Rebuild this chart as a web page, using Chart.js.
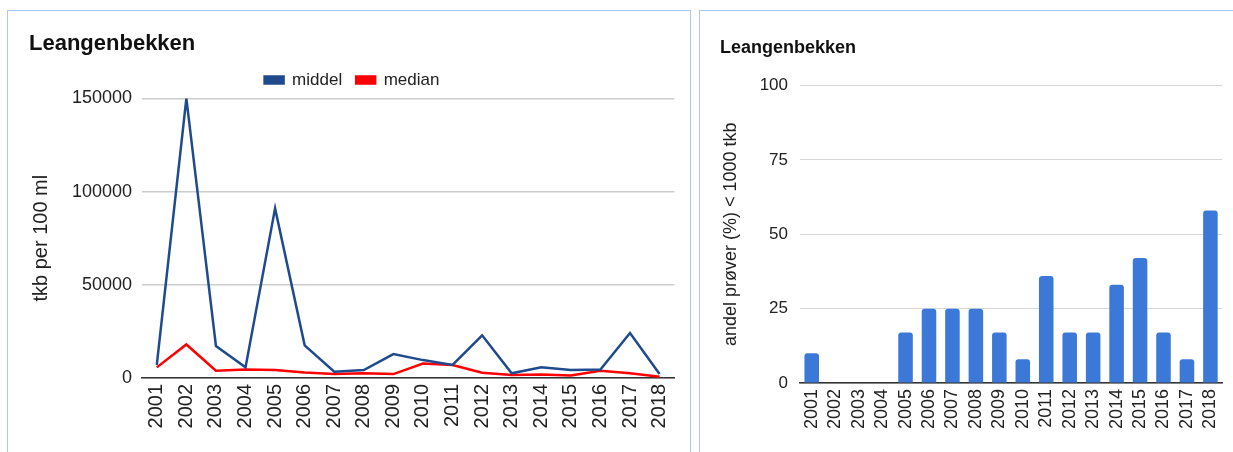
<!DOCTYPE html>
<html>
<head>
<meta charset="utf-8">
<script src="https://cdn.jsdelivr.net/npm/chart.js@4.4.1/dist/chart.umd.min.js"></script>
<style>
  body { margin: 0; background: #fff; font-family: Arial, "Liberation Sans", sans-serif; }
  .panel { position: absolute; border: 1px solid #a9c8f5; background: #fff; }
  #leftPanel { left: 7px; top: 10px; width: 682px; height: 460px; }
  #rightPanel { left: 699px; top: 10px; width: 560px; height: 460px; }
  .box { position: absolute; left: 0; top: 0; }
</style>
</head>
<body>
<div class="panel" id="leftPanel"><div class="box" style="width:682px;height:441px"><canvas id="lineChart"></canvas></div></div>
<div class="panel" id="rightPanel"><div class="box" style="width:538px;height:441px"><canvas id="barChart"></canvas></div></div>
<script>
// Leangenbekken - tkb per 100 ml and andel prøver < 1000 tkb
const years = ['2001','2002','2003','2004','2005','2006','2007','2008','2009','2010','2011','2012','2013','2014','2015','2016','2017','2018'];
const middelValues = [7000, 150000, 17200, 5700, 91000, 17500, 3400, 4300, 12800, 9600, 7000, 22900, 2500, 5700, 4300, 4600, 24100, 2100];
const medianValues = [5700, 18000, 3900, 4600, 4300, 3000, 2100, 2500, 2100, 7800, 7000, 2800, 1600, 1900, 1400, 3900, 2500, 700];
const andelValues = [10, 0, 0, 0, 17, 25, 25, 25, 17, 8, 36, 17, 17, 33, 42, 17, 8, 58];
const lineTicks = [0, 50000, 100000, 150000];
const barTicks = [0, 25, 50, 75, 100];

const FONT = 'Arial, "Liberation Sans", sans-serif';
Chart.defaults.font.family = FONT;
Chart.defaults.color = '#222';

new Chart(document.getElementById('lineChart'), {
  type: 'line',
  data: {
    labels: years,
    datasets: [
      {
        label: 'middel',
        data: middelValues,
        borderColor: '#1f4b8e',
        backgroundColor: '#1f4b8e',
        borderWidth: 2.5,
        pointRadius: 0,
        tension: 0
      },
      {
        label: 'median',
        data: medianValues,
        borderColor: '#ff0000',
        backgroundColor: '#ff0000',
        borderWidth: 2.5,
        pointRadius: 0,
        tension: 0
      }
    ]
  },
  options: {
    responsive: true,
    maintainAspectRatio: false,
    animation: false,
    layout: { padding: { left: 21, right: 15, top: 0, bottom: 0 } },
    plugins: {
      title: {
        display: true,
        text: 'Leangenbekken',
        align: 'start',
        color: '#111',
        font: { size: 22, weight: 'bold' },
        padding: { top: 20, bottom: 0 }
      },
      legend: {
        display: true,
        position: 'top',
        labels: {
          boxWidth: 19,
          boxHeight: 7,
          padding: 14,
          color: '#222',
          font: { size: 17 }
        }
      },
      tooltip: { enabled: false }
    },
    scales: {
      x: {
        offset: true,
        grid: { display: false, drawTicks: false },
        border: { color: '#333', width: 1.5 },
        ticks: {
          maxRotation: 90,
          minRotation: 90,
          autoSkip: false,
          padding: 6,
          color: '#222',
          font: { size: 20 }
        },
        afterFit: function(scale) { scale.height = 74; }
      },
      y: {
        min: 0,
        max: 150000,
        afterBuildTicks: function(scale) { scale.ticks = lineTicks.map(v => ({ value: v })); },
        grid: { color: '#cccccc', lineWidth: 1.5, drawTicks: false },
        border: { display: false },
        title: {
          display: true,
          text: 'tkb per 100 ml',
          color: '#222',
          font: { size: 20 },
          padding: { top: 0, bottom: 0 }
        },
        ticks: {
          padding: 10,
          color: '#222',
          font: { size: 18 },
          callback: function(value) { return String(value); }
        },
        afterFit: function(scale) { scale.width = 113; }
      }
    }
  }
});

new Chart(document.getElementById('barChart'), {
  type: 'bar',
  data: {
    labels: years,
    datasets: [
      {
        label: 'andel prøver (%) < 1000 tkb',
        data: andelValues,
        backgroundColor: '#3c78d8',
        borderRadius: { topLeft: 3, topRight: 3 },
        borderSkipped: 'bottom',
        categoryPercentage: 0.62,
        barPercentage: 1
      }
    ]
  },
  options: {
    responsive: true,
    maintainAspectRatio: false,
    animation: false,
    layout: { padding: { left: 20, right: 0, top: 0, bottom: 0 } },
    plugins: {
      title: {
        display: true,
        text: 'Leangenbekken',
        align: 'start',
        color: '#111',
        font: { size: 18, weight: 'bold' },
        padding: { top: 26, bottom: 27 }
      },
      legend: { display: false },
      tooltip: { enabled: false }
    },
    scales: {
      x: {
        grid: { display: false, drawTicks: false },
        border: { color: '#333', width: 1.5 },
        ticks: {
          maxRotation: 90,
          minRotation: 90,
          autoSkip: false,
          padding: 6,
          color: '#222',
          font: { size: 18 }
        },
        afterFit: function(scale) { scale.height = 69; }
      },
      y: {
        min: 0,
        max: 100,
        afterBuildTicks: function(scale) { scale.ticks = barTicks.map(v => ({ value: v })); },
        grid: { color: '#d6d6d6', lineWidth: 1, drawTicks: false },
        border: { display: false },
        title: {
          display: true,
          text: 'andel prøver (%) < 1000 tkb',
          color: '#222',
          font: { size: 18 },
          padding: { top: 0, bottom: 0 }
        },
        ticks: {
          padding: 12,
          color: '#222',
          font: { size: 17 }
        },
        afterFit: function(scale) { scale.width = 80; }
      }
    }
  }
});
</script>
</body>
</html>
